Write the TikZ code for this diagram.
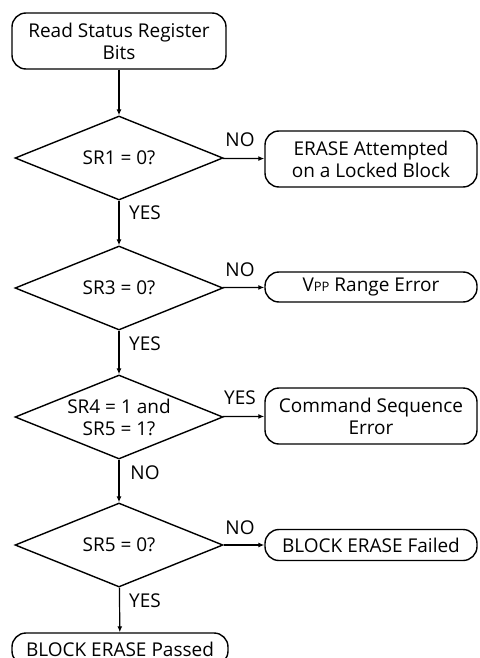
\documentclass[tikz,border=0pt]{standalone}
\usepackage{fontspec}
\setmainfont{Open Sans}
\usetikzlibrary{arrows.meta,shapes.geometric}
\tikzset{>={Latex[length=6pt,width=5pt]}}
\tikzset{
  box/.style={draw,line width=1.4pt,rounded corners=14pt,align=center,
    minimum width=212pt,inner sep=0pt},
  test/.style={draw,diamond,line width=1.4pt,aspect=2.48,inner sep=0pt,
    minimum width=208pt,minimum height=84pt,align=center},
  flow/.style={->,line width=1.2pt},
  lbl/.style={inner sep=0pt}
}

\begin{document}
\begin{tikzpicture}[x=1pt,y=-1pt,font=\fontsize{19}{22}\selectfont]
\useasboundingbox (0,0) rectangle (479,658);
\node[box,minimum width=214pt,minimum height=56pt] (read) at (119,41) {Read Status Register\\Bits};
\node[test] (sr1) at (119,158) {SR1 = 0?};
\node[test] (sr3) at (119,288) {SR3 = 0?};
\node[test] (sr45) at (119,417) {SR4 = 1 and\\SR5 = 1?};
\node[test] (sr5) at (119,545) {SR5 = 0?};
\node[box,minimum width=216pt,minimum height=32pt] (pass) at (120,649) {BLOCK ERASE Passed};
\node[box,minimum height=56pt] (lock) at (371,159) {ERASE Attempted\\on a Locked Block};
\node[box,minimum height=30pt] (vpp) at (371,287) {V{\fontsize{13}{14}\selectfont PP} Range Error};
\node[box,minimum height=56pt] (cmd) at (371,416) {Command Sequence\\Error};
\node[box,minimum height=31pt] (fail) at (371,545) {BLOCK ERASE Failed};
\draw[flow] (read) -- (sr1);
\draw[flow] (sr1) -- (sr3);
\draw[flow] (sr3) -- (sr45);
\draw[flow] (sr45) -- (sr5);
\draw[flow] (sr5) -- (pass);
\draw[flow] (sr1) -- (lock);
\draw[flow] (sr3) -- (vpp);
\draw[flow] (sr45) -- (cmd);
\draw[flow] (sr5) -- (fail);
\node[lbl] at (240,140) {NO};
\node[lbl] at (145,213) {YES};
\node[lbl] at (240,270) {NO};
\node[lbl] at (145,344) {YES};
\node[lbl] at (240,398) {YES};
\node[lbl] at (145,473) {NO};
\node[lbl] at (240,528) {NO};
\node[lbl] at (145,601) {YES};
\end{tikzpicture}
\end{document}
